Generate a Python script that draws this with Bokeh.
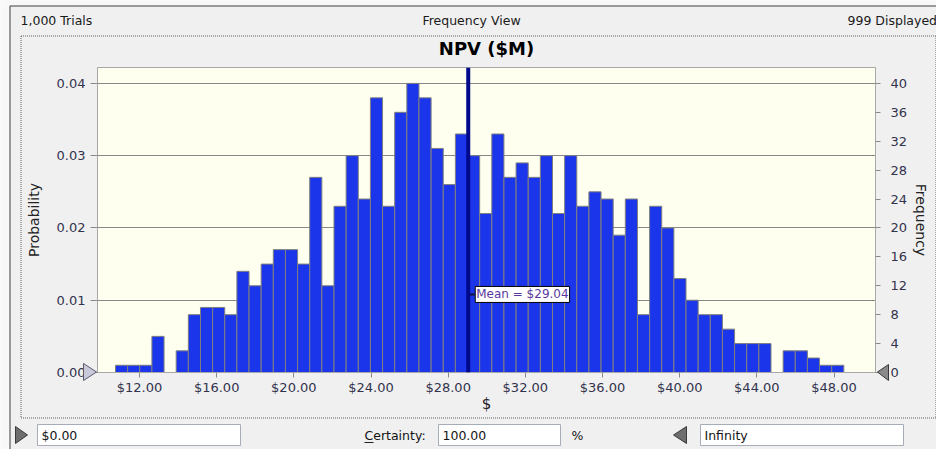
from bokeh.plotting import figure
from bokeh.models import (Range1d, LinearAxis, FixedTicker, NumeralTickFormatter,
                          Label, Span, Grid)
from bokeh.core.properties import value
from bokeh.embed import file_html
from bokeh.resources import INLINE

# ---------------- data ----------------
header_left = "1,000 Trials"
header_mid = "Frequency View"
header_right = "999 Displayed"
chart_title = "NPV ($M)"
bin_start = 10.756
bin_width = 0.6292
counts = [1, 1, 1, 5, 0, 3, 8, 9, 9, 8,
          14, 12, 15, 17, 17, 15, 27, 12, 23, 30,
          24, 38, 23, 36, 40, 38, 31, 26, 33, 30,
          22, 33, 27, 29, 27, 30, 22, 30, 23, 25,
          24, 19, 24, 8, 23, 20, 13, 10, 8, 8,
          6, 4, 4, 4, 0, 3, 3, 2, 1, 1]
mean_value = 29.04
mean_text = "Mean = $29.04"
x_ticks = [12, 16, 20, 24, 28, 32, 36, 40, 44, 48]
prob_ticks = [0.0, 0.01, 0.02, 0.03, 0.04]
freq_ticks = [0, 4, 8, 12, 16, 20, 24, 28, 32, 36, 40]
lower_text = "$0.00"
certainty_label = "Certainty:"
certainty_text = "100.00"
percent_text = "%"
upper_text = "Infinity"

FONT = "DejaVu Sans"
LBL = "#33334d"

lefts = [bin_start + i * bin_width for i in range(len(counts))]
rights = [l + bin_width for l in lefts]

W, H = 936, 449
FL, FR, FT, FB = 97, 875, 67, 372

# ================= main chart =================
chart = figure(width=W, height=H, output_backend="svg", toolbar_location=None,
               x_range=Range1d(9.823, 50.15), y_range=Range1d(0, 42.2),
               x_axis_type=None, y_axis_type=None,
               min_border_left=FL, min_border_right=W - FR, min_border_top=FT, min_border_bottom=H - FB)
chart.extra_y_ranges = {"prob": Range1d(0, 0.0422)}
chart.background_fill_color = "#fffff0"
chart.border_fill_color = "#f0f0f0"
chart.outline_line_color = "#a8a8a8"

chart.title.text = chart_title
chart.title.align = "center"
chart.title.text_font = FONT
chart.title.text_font_size = "18px"
chart.title.text_font_style = "bold"
chart.title.text_color = "black"
chart.title.standoff = 18

chart.add_layout(Grid(dimension=1, ticker=FixedTicker(ticks=[c * 1000 for c in prob_ticks[1:]]),
                      grid_line_color="#888888", grid_line_width=1))

def style_axis(ax):
    ax.axis_line_color = "#a8a8a8"
    ax.major_tick_line_color = "#8a8a8a"
    ax.minor_tick_line_color = None
    ax.major_tick_in = 0
    ax.major_label_text_font = FONT
    ax.major_label_text_font_size = "13px"
    ax.major_label_text_color = LBL
    ax.axis_label_text_font = FONT
    ax.axis_label_text_font_style = "normal"
    ax.axis_label_text_color = "#222222"

xax = LinearAxis(ticker=FixedTicker(ticks=x_ticks), formatter=NumeralTickFormatter(format="$0.00"),
                 axis_label="$")
style_axis(xax)
xax.major_tick_out = 5
xax.major_label_standoff = 2
xax.axis_label_standoff = -3
xax.axis_label_text_font_size = "15px"
chart.add_layout(xax, "below")

lax = LinearAxis(y_range_name="prob", ticker=FixedTicker(ticks=prob_ticks),
                 formatter=NumeralTickFormatter(format="0.00"), axis_label="Probability")
style_axis(lax)
lax.major_tick_out = 7
lax.major_label_standoff = 5
lax.axis_label_standoff = 12
lax.axis_label_text_font_size = "14px"
chart.add_layout(lax, "left")

rax = LinearAxis(ticker=FixedTicker(ticks=freq_ticks), axis_label="Frequency")
style_axis(rax)
rax.major_tick_out = 5
rax.major_label_standoff = 10
rax.axis_label_standoff = 3
rax.axis_label_text_font_size = "14px"
chart.add_layout(rax, "right")

chart.quad(left=lefts, right=rights, top=counts, bottom=0,
           fill_color="#1b35ea", line_color="#7f7f7f", line_width=1)

chart.add_layout(Span(location=mean_value, dimension="height", line_color="#00088c", line_width=4))
chart.segment(x0=[mean_value], x1=[mean_value + 0.33], y0=[10.8], y1=[10.8],
              line_color="#101030", line_width=2)
chart.add_layout(Label(x=mean_value, y=10.8, x_offset=7, text=mean_text, text_baseline="middle",
                       text_font=FONT, text_font_size="12px", text_color="#5b3a9e",
                       background_fill_color="white", border_line_color="black", border_line_width=1,
                       padding=1))

# ================= window chrome overlay (pixel coordinates) =================
ov = figure(width=W, height=H, output_backend="svg", toolbar_location=None,
            x_range=Range1d(0, W), y_range=Range1d(H, 0),
            x_axis_type=None, y_axis_type=None, min_border=0, title=None)
ov.background_fill_alpha = 0
ov.border_fill_alpha = 0
ov.outline_line_color = None
ov.styles = {"position": "absolute", "top": "0px", "left": "0px", "pointer-events": "none"}

# outer window edge
ov.quad(left=[0, 0], right=[9, W], top=[0, 0], bottom=[H, 5], fill_color="#f8f8f8", line_color=None)
ov.multi_line(xs=[[9.5, 9.5], [9.5, W]], ys=[[5.5, H], [5.5, 5.5]], line_color="#404040", line_width=1)

# dotted group frame
ov.multi_line(xs=[[20.5, 20.5], [20.5, 935.5], [20.5, 935.5], [935.5, 935.5]],
              ys=[[35.5, 417.5], [35.5, 35.5], [417.5, 417.5], [35.5, 417.5]],
              line_color="#606060", line_width=1, line_dash="1 1")

ov.text(x=[20, 471, 847], y=[20, 20, 20], text=[header_left, header_mid, header_right],
        text_align=["left", "center", "left"], text_baseline="middle",
        text_font=value(FONT), text_font_size="12.5px", text_color="#1a1a1a")

# certainty grabbers on the chart axes
ov.patches(xs=[[83, 96, 83]], ys=[[363, 371.5, 380]], fill_color="#c9c9dc", line_color="#5a5a6a")
ov.patches(xs=[[888, 877, 888]], ys=[[364, 371.5, 380]], fill_color="#8a8a8a", line_color="#3a3a3a")

# bottom controls
BY0, BY1 = 424, 445
BYM = (BY0 + BY1) / 2
ov.patches(xs=[[15, 27, 15], [686, 673, 686]], ys=[[BY0 + 2, BYM, BY1 - 2], [BY0 + 2, BYM, BY1 - 2]],
           fill_color="#6e6e6e", line_color="#3a3a3a")
ov.quad(left=[37, 438, 700], right=[240, 560, 903], top=[BY0, BY0, BY0], bottom=[BY1, BY1, BY1],
        fill_color="white", line_color="#a6adb8")
ov.text(x=[41, 364, 442, 571, 704], y=[BYM] * 5,
        text=[lower_text, certainty_label, certainty_text, percent_text, upper_text],
        text_align="left", text_baseline="middle",
        text_font=value(FONT), text_font_size="12.5px", text_color="#141414")
ov.segment(x0=[364], x1=[373], y0=[BY1 - 3], y1=[BY1 - 3], line_color="#222222", line_width=1)

p = [chart, ov]
open("out.html", "w").write(file_html(p, INLINE))
